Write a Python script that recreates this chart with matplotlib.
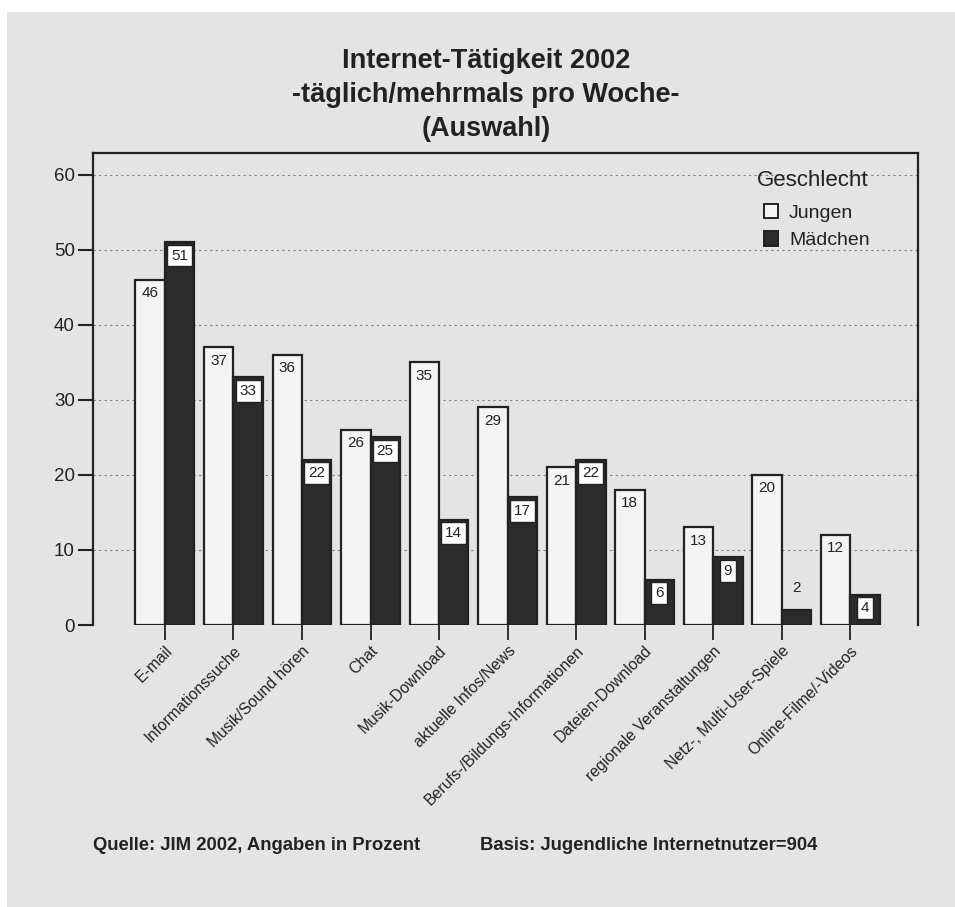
import matplotlib.pyplot as plt
from matplotlib.patches import Rectangle, Patch

plt.rcParams["font.family"] = ["Liberation Sans", "DejaVu Sans"]

# data (percent)
categories = ["E-mail", "Informationssuche", "Musik/Sound hören", "Chat",
              "Musik-Download", "aktuelle Infos/News",
              "Berufs-/Bildungs-Informationen", "Dateien-Download",
              "regionale Veranstaltungen", "Netz-, Multi-User-Spiele",
              "Online-Filme/-Videos"]
jungen = [46, 37, 36, 26, 35, 29, 21, 18, 13, 20, 12]
maedchen = [51, 33, 22, 25, 14, 17, 22, 6, 9, 2, 4]
yticks = [0, 10, 20, 30, 40, 50, 60]

paper = "#e4e4e4"
ink = "#222222"
dark = "#2b2b2b"

W, H = 955, 907
fig = plt.figure(figsize=(W / 100, H / 100), dpi=100)
fig.patch.set_facecolor("white")
fig.patches.append(Rectangle((7 / W, 0), 1, 1 - 12 / H, transform=fig.transFigure,
                             facecolor=paper, edgecolor="none", zorder=-10))

ax = fig.add_axes([93 / W, 1 - 625 / H, (918 - 93) / W, (625 - 153) / H])
ax.set_facecolor("none")

x = list(range(len(categories)))
w = 0.43
bj = ax.bar([i - w / 2 for i in x], jungen, width=w, color="#f4f4f4",
            edgecolor=ink, linewidth=1.6, zorder=3)
bm = ax.bar([i + w / 2 for i in x], maedchen, width=w, color=dark,
            edgecolor=ink, linewidth=1.6, zorder=3)

# value labels just inside the top of each bar
for rect, v in zip(bj, jungen):
    ax.annotate(str(v), (rect.get_x() + rect.get_width() / 2, v),
                xytext=(0, -9.5), textcoords="offset points", ha="center",
                va="center", fontsize=11, color=ink, zorder=5)
for rect, v in zip(bm, maedchen):
    cx = rect.get_x() + rect.get_width() / 2
    if v < 3:
        ax.annotate(str(v), (cx, v), xytext=(0, 16), textcoords="offset points",
                    ha="center", va="center", fontsize=11, color=ink, zorder=5)
    else:
        ax.annotate(str(v), (cx, v), xytext=(0, -9.5), textcoords="offset points",
                    ha="center", va="center", fontsize=11, color=ink, zorder=5,
                    bbox=dict(boxstyle="square,pad=0.25", facecolor="white",
                              edgecolor=ink, linewidth=1.0))

ax.set_xlim(-1.05, 10.99)
ax.set_ylim(0, 62.93)
ax.set_yticks(yticks)
ax.set_yticklabels([str(t) for t in yticks], fontsize=13.5, color=ink)
for t in yticks:
    ax.axhline(t, color="#555555", linewidth=0.8, linestyle=(0, (2, 3)),
               alpha=0.7, zorder=1)

ax.set_xticks(x)
ax.set_xticklabels(categories, rotation=45, ha="right", va="top",
                   rotation_mode="anchor", fontsize=11.3, color=ink)
ax.tick_params(axis="y", direction="out", length=11, width=1.5, color=ink, pad=2)
ax.tick_params(axis="x", direction="out", length=11, width=1.3, color=ink, pad=2)

for side in ["left", "right", "top"]:
    ax.spines[side].set_linewidth(1.6)
    ax.spines[side].set_color(ink)
ax.spines["bottom"].set_visible(False)

# legend
fig.text(757 / W, 1 - 181 / H, "Geschlecht", ha="left", va="center",
         fontsize=16, color=ink)
handles = [Patch(facecolor="#f4f4f4", edgecolor=ink, linewidth=1.4),
           Patch(facecolor=dark, edgecolor=ink, linewidth=1.4)]
leg = fig.legend(handles, ["Jungen", "Mädchen"],
                 loc="upper left", bbox_to_anchor=(754 / W, 1 - 194 / H),
                 frameon=False, fontsize=14,
                 handlelength=0.75, handleheight=0.75,
                 handletextpad=0.55, labelspacing=0.5, borderpad=0)
for t in leg.get_texts():
    t.set_color(ink)

title = "Internet-Tätigkeit 2002\n-täglich/mehrmals pro Woche-\n(Auswahl)"
fig.text(486 / W, 1 - 95 / H, title, ha="center", va="center", fontsize=19.5,
         fontweight="bold", color=ink, linespacing=1.38)

fig.text(93 / W, 1 - 845 / H, "Quelle: JIM 2002, Angaben in Prozent",
         ha="left", va="center", fontsize=13.3, fontweight="bold", color=ink)
fig.text(480 / W, 1 - 845 / H, "Basis: Jugendliche Internetnutzer=904",
         ha="left", va="center", fontsize=13.3, fontweight="bold", color=ink)

fig.savefig("out.png", dpi=100, facecolor=fig.get_facecolor())
